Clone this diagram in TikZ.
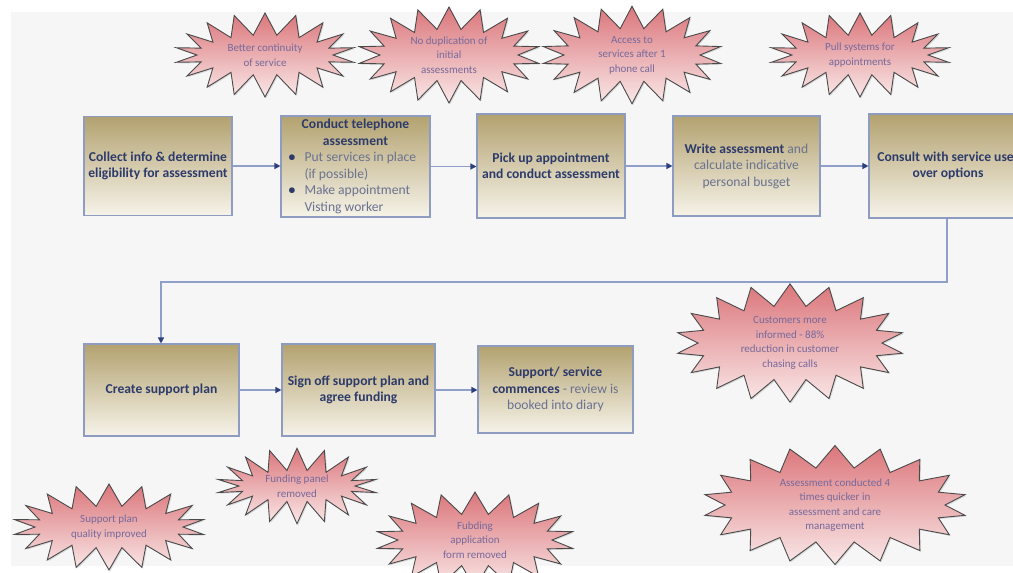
\documentclass[tikz,border=0pt]{standalone}
\usepackage{fontspec}
\setmainfont{Carlito}
\usetikzlibrary{shapes.symbols,arrows.meta,shadows}
\definecolor{panel}{HTML}{F6F6F6}
\definecolor{boxtop}{HTML}{B3A270}
\definecolor{boxbot}{HTML}{F6F3E9}
\definecolor{boxline}{HTML}{8E9CC2}
\definecolor{headtxt}{HTML}{2D3B6B}
\definecolor{bodytxt}{HTML}{6A7290}
\definecolor{linkcol}{HTML}{8E9FCA}
\definecolor{tipcol}{HTML}{2D3F7E}
\definecolor{burstop}{HTML}{DB767B}
\definecolor{burstbot}{HTML}{FAE8E8}
\definecolor{burstline}{HTML}{4A4A4A}
\definecolor{bursttxt}{HTML}{76699C}
\newcommand{\bline}[2]{\makebox[134pt][l]{\makebox[16pt][l]{\color{headtxt}#1}{\mdseries\color{bodytxt}#2}}}
\begin{document}
\begin{tikzpicture}[x=1pt,y=-1pt,
  procbox/.style={draw=boxline, line width=1.1pt, top color=boxtop, bottom color=boxbot,
    align=center, inner sep=3pt, font=\fontsize{13.6}{16.5}\selectfont\bfseries, text=headtxt},
  link/.style={draw=linkcol, line width=1.3pt, -{Triangle[length=6pt,width=6pt,color=tipcol]}},
  burst/.style={starburst, random starburst=0, starburst points=18, starburst point height=22pt,
    draw=burstline, line width=0.9pt, top color=burstop, bottom color=burstbot,
    drop shadow={opacity=0.25, shadow xshift=1.2pt, shadow yshift=-1.2pt},
    align=center, text=bursttxt, inner sep=0pt, font=\fontsize{11}{14.5}\selectfont}
]
\useasboundingbox (0,0) rectangle (1013,573);
\fill[white] (0,0) rectangle (1013,573);
\fill[panel] (11,12) rectangle (1013,566);

% process boxes, top row
\node[procbox, minimum width=148pt, minimum height=99pt] (b1) at (158,166)
  {Collect info \& determine\\eligibility for assessment};
\node[procbox, minimum width=149pt, minimum height=101pt] (b2) at (355.5,166.5)
  {Conduct telephone\\assessment\\
   \bline{\textbullet}{Put services in place}\\
   \bline{}{(if possible)}\\
   \bline{\textbullet}{Make appointment}\\
   \bline{}{Visting worker}};
\node[procbox, minimum width=148pt, minimum height=104pt] (b3) at (551,166)
  {Pick up appointment\\and conduct assessment};
\node[procbox, minimum width=147pt, minimum height=100pt] (b4) at (746.5,166)
  {Write assessment {\mdseries\color{bodytxt}and}\\{\mdseries\color{bodytxt}calculate indicative}\\{\mdseries\color{bodytxt}personal busget}};
\node[procbox, minimum width=158pt, minimum height=104pt] (b5) at (948,166)
  {Consult with service user\\over options};

% bottom row
\node[procbox, minimum width=155pt, minimum height=92pt] (b6) at (161.5,390)
  {Create support plan};
\node[procbox, minimum width=153pt, minimum height=92pt] (b7) at (358.5,390)
  {Sign off support plan and\\agree funding};
\node[procbox, minimum width=155pt, minimum height=87pt] (b8) at (555.5,389.5)
  {Support/ service\\commences {\mdseries\color{bodytxt}- review is}\\{\mdseries\color{bodytxt}booked into diary}};

% connectors
\draw[link] (b1.east) -- (b1.east -| b2.west);
\draw[link] (b2.east) -- (b2.east -| b3.west);
\draw[link] (b3.east) -- (b3.east -| b4.west);
\draw[link] (b4.east) -- (b4.east -| b5.west);
\coordinate (t1) at (947,282);
\coordinate (t2) at (161,282);
\draw[link] (b5.south -| t1) -- (t1) -- (t2) -- (b6.north -| t2);
\draw[link] (b6.east) -- (b6.east -| b7.west);
\draw[link] (b7.east) -- (b7.east -| b8.west);

% starbursts
\node[burst, minimum width=180pt, minimum height=84pt] (s1) at (265,55)
  {Better continuity\\of service};
\node[burst, minimum width=182pt, minimum height=84pt] (s2) at (449,55)
  {No duplication of\\initial\\assessments};
\node[burst, minimum width=180pt, minimum height=84pt] (s3) at (632,55)
  {Access to\\services after 1\\phone call};
\node[burst, minimum width=180pt, minimum height=84pt] (s4) at (860,55)
  {Pull systems for\\appointments};
\node[burst, minimum width=228pt, minimum height=92pt] (s5) at (790,343)
  {Customers more\\informed - 88\%\\reduction in customer\\chasing calls};
\node[burst, minimum width=264pt, minimum height=106pt] (s6) at (835,505)
  {Assessment conducted 4\\times quicker in\\assessment and care\\management};
\node[burst, minimum width=192pt, minimum height=86pt] (s7) at (109,527)
  {Support plan\\quality improved};
\node[burst, minimum width=160pt, minimum height=72pt] (s8) at (297,486)
  {Funding panel\\removed};
\node[burst, minimum width=198pt, minimum height=84pt] (s9) at (475,540)
  {Fubding\\application\\form removed};
\end{tikzpicture}
\end{document}
